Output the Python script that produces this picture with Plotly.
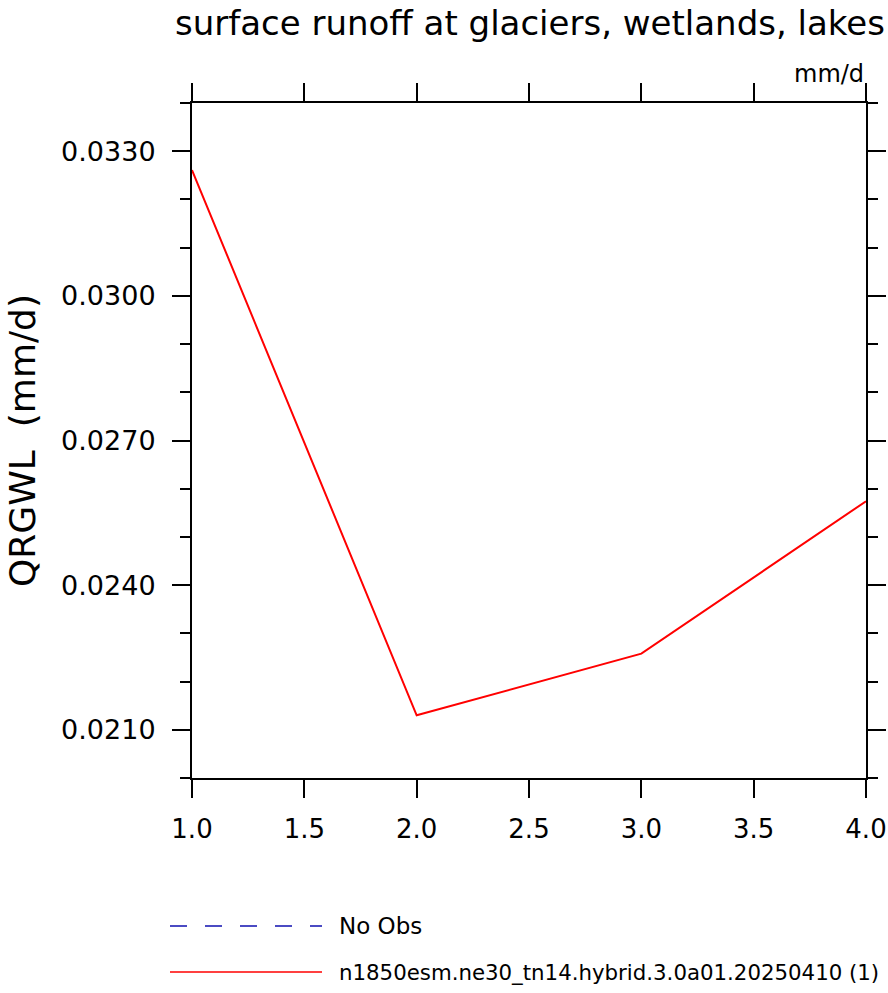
import plotly.graph_objects as go

# ---- data ----
x_vals = [1.0, 2.0, 3.0, 4.0]
qrgwl = [0.03261, 0.02130, 0.02258, 0.02574]
series_name = "n1850esm.ne30_tn14.hybrid.3.0a01.20250410 (1)"
obs_name = "No Obs"
title_text = "surface runoff at glaciers, wetlands, lakes"
units_text = "mm/d"
ytitle_text = "QRGWL\u00a0\u00a0(mm/d)"

# ---- layout geometry (pixels) ----
W_PX, H_PX = 888, 993
L, R, T, B = 192, 866, 103, 778
PW, PH = R - L, B - T

def px(x):
    return (x - L) / PW

def py(y):
    return (B - y) / PH

FONT = "DejaVu Sans"

fig = go.Figure()
fig.add_trace(go.Scatter(x=x_vals, y=qrgwl, mode="lines",
                         line=dict(color="#ff0000", width=2),
                         showlegend=False, name=series_name))

axis_common = dict(showgrid=False, zeroline=False, showline=True,
                   linecolor="black", linewidth=2, mirror="ticks",
                   ticks="outside", tickcolor="black", tickwidth=2,
                   ticklen=18)

fig.update_xaxes(range=[1, 4], tick0=1, dtick=0.5, tickformat=".1f",
                 tickfont=dict(family=FONT, size=26, color="black"),
                 ticklabelstandoff=9,
                 **axis_common)
fig.update_yaxes(range=[0.020, 0.034], tick0=0.021, dtick=0.003,
                 tickformat=".4f",
                 tickfont=dict(family=FONT, size=27, color="black"),
                 ticklabelstandoff=11,
                 minor=dict(ticks="outside", tick0=0.020, dtick=0.001,
                            ticklen=10, tickwidth=2, tickcolor="black"),
                 **axis_common)

ann = []
ann.append(dict(text=title_text, x=px(530), y=py(23), xref="paper", yref="paper",
                xanchor="center", yanchor="middle", showarrow=False,
                font=dict(family=FONT, size=34, color="black")))
ann.append(dict(text=units_text, x=px(866), y=py(74), xref="paper", yref="paper",
                xanchor="right", yanchor="middle", showarrow=False,
                font=dict(family=FONT, size=24, color="black")))
ann.append(dict(text=ytitle_text, x=px(22), y=py(441), xref="paper", yref="paper",
                xanchor="center", yanchor="middle", showarrow=False, textangle=-90,
                font=dict(family=FONT, size=36, color="black")))
ann.append(dict(text=obs_name, x=px(337), y=py(926), xref="paper", yref="paper",
                xanchor="left", yanchor="middle", showarrow=False,
                font=dict(family=FONT, size=23, color="black")))
ann.append(dict(text=series_name, x=px(337), y=py(972), xref="paper", yref="paper",
                xanchor="left", yanchor="middle", showarrow=False,
                font=dict(family=FONT, size=21.3, color="black")))

shapes = [
    dict(type="line", xref="paper", yref="paper", x0=px(170), x1=px(322),
         y0=py(926), y1=py(926), line=dict(color="#1010b0", width=1.5, dash="17px,18px")),
    dict(type="line", xref="paper", yref="paper", x0=px(170), x1=px(322),
         y0=py(972), y1=py(972), line=dict(color="#ff0000", width=1.5)),
]

fig.update_layout(width=W_PX, height=H_PX,
                  margin=dict(l=L, r=W_PX - R, t=T, b=H_PX - B, autoexpand=False),
                  plot_bgcolor="white", paper_bgcolor="white",
                  annotations=ann, shapes=shapes, showlegend=False)

fig.write_html("out.html", config={"displayModeBar": False},
               post_script="document.body.style.margin='0';document.body.style.overflow='hidden';")
